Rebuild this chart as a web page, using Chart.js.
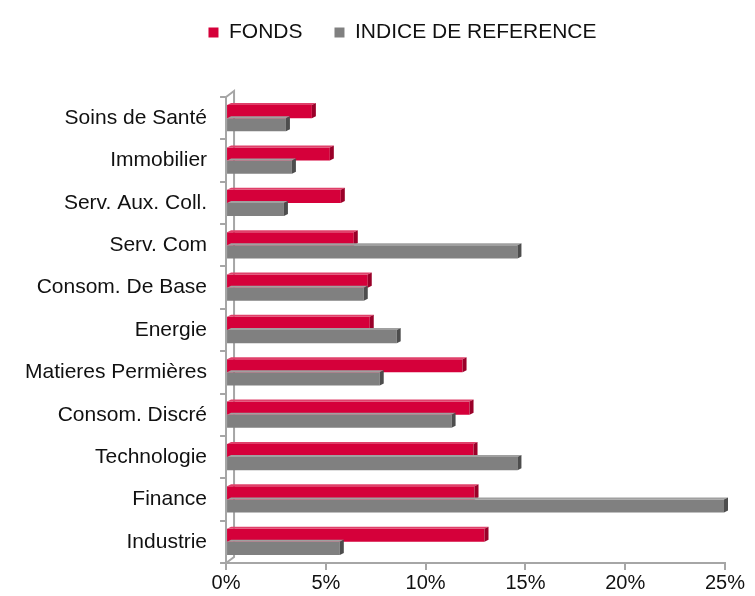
<!DOCTYPE html>
<html>
<head>
<meta charset="utf-8">
<script src="https://cdn.jsdelivr.net/npm/chart.js@4"></script>
<style>
    html, body { margin: 0; padding: 0; background: #fff; }
    #wrap { width: 755px; height: 596px; }
</style>
</head>
<body>
<div id="wrap"><canvas id="sectorChart"></canvas></div>
<script>
// Sector weights (%)
const sectors = ['Soins de Santé', 'Immobilier', 'Serv. Aux. Coll.', 'Serv. Com', 'Consom. De Base',
    'Energie', 'Matieres Permières', 'Consom. Discré', 'Technologie', 'Finance', 'Industrie'];
const fonds = [4.3, 5.2, 5.75, 6.4, 7.1, 7.2, 11.85, 12.2, 12.4, 12.45, 12.95];
const indice = [3.0, 3.3, 2.9, 14.6, 6.9, 8.55, 7.7, 11.3, 14.6, 24.95, 5.7];
const xTicks = [0, 5, 10, 15, 20, 25];

const DEPTH = 4;

// Fake 3D look: back wall, floor diagonals and bar sides
const depthPlugin = {
    id: 'depth',
    beforeDatasetsDraw(chart) {
        const ctx = chart.ctx;
        const a = chart.chartArea;
        ctx.save();
        ctx.strokeStyle = '#a6a6a6';
        ctx.lineWidth = 2;
        ctx.beginPath();
        ctx.moveTo(a.left, a.top);
        ctx.lineTo(a.left + DEPTH * 2, a.top - DEPTH * 1.5);
        ctx.lineTo(a.left + DEPTH * 2, a.bottom - DEPTH * 1.5);
        ctx.lineTo(a.left, a.bottom);
        ctx.stroke();
        ctx.restore();
    },
    afterDatasetsDraw(chart) {
        const ctx = chart.ctx;
        const sides = ['#9a0029', '#4d4d4d'];
        const tops = ['#e0406a', '#a0a0a0'];
        chart.data.datasets.forEach((ds, i) => {
            chart.getDatasetMeta(i).data.forEach(bar => {
                const top = bar.y - bar.height / 2;
                const bottom = bar.y + bar.height / 2;
                ctx.save();
                ctx.fillStyle = tops[i];
                ctx.beginPath();
                ctx.moveTo(bar.base, top);
                ctx.lineTo(bar.base + DEPTH, top - 2);
                ctx.lineTo(bar.x + DEPTH, top - 2);
                ctx.lineTo(bar.x, top);
                ctx.closePath();
                ctx.fill();
                ctx.fillStyle = sides[i];
                ctx.beginPath();
                ctx.moveTo(bar.x, top);
                ctx.lineTo(bar.x + DEPTH, top - 2);
                ctx.lineTo(bar.x + DEPTH, bottom - 2);
                ctx.lineTo(bar.x, bottom);
                ctx.closePath();
                ctx.fill();
                ctx.restore();
            });
        });
    }
};

// Push the plot below the legend and nudge the legend over
const legendGap = {
    id: 'legendGap',
    beforeInit(chart) {
        const legend = chart.legend;
        const fit = legend.fit;
        legend.fit = function () {
            fit.bind(legend)();
            this.height += 34;
        };
        const draw = legend.draw;
        legend.draw = function () {
            const ctx = chart.ctx;
            ctx.save();
            ctx.translate(34, -10);
            draw.bind(legend)();
            ctx.restore();
        };
    }
};

new Chart(document.getElementById('sectorChart'), {
    type: 'bar',
    data: {
        labels: sectors,
        datasets: [{
            label: 'FONDS',
            data: fonds,
            backgroundColor: '#d5003a'
        }, {
            label: 'INDICE DE REFERENCE',
            data: indice,
            backgroundColor: '#808080'
        }]
    },
    options: {
        indexAxis: 'y',
        responsive: true,
        maintainAspectRatio: false,
        animation: false,
        categoryPercentage: 0.62,
        barPercentage: 1,
        layout: { padding: { top: 0, right: 30, left: 12, bottom: 0 } },
        plugins: {
            legend: {
                labels: {
                    color: '#111',
                    font: { family: 'Liberation Sans', size: 21 },
                    boxWidth: 10,
                    boxHeight: 10,
                    padding: 32
                }
            },
            tooltip: { enabled: false }
        },
        scales: {
            x: {
                min: 0,
                max: 25,
                afterBuildTicks(axis) {
                    axis.ticks = xTicks.map(v => ({ value: v }));
                },
                ticks: {
                    callback: v => v + '%',
                    color: '#111',
                    font: { family: 'Liberation Sans', size: 20 },
                    maxRotation: 0,
                    padding: 1
                },
                grid: { drawOnChartArea: false, tickLength: 7, color: '#a6a6a6', lineWidth: 2 },
                border: { color: '#a6a6a6', width: 2 }
            },
            y: {
                ticks: {
                    color: '#111',
                    font: { family: 'Liberation Sans', size: 21 },
                    padding: 13
                },
                grid: { drawOnChartArea: false, offset: true, tickLength: 6, color: '#a6a6a6', lineWidth: 2 },
                border: { color: '#a6a6a6', width: 2 }
            }
        }
    },
    plugins: [depthPlugin, legendGap]
});
</script>
</body>
</html>
